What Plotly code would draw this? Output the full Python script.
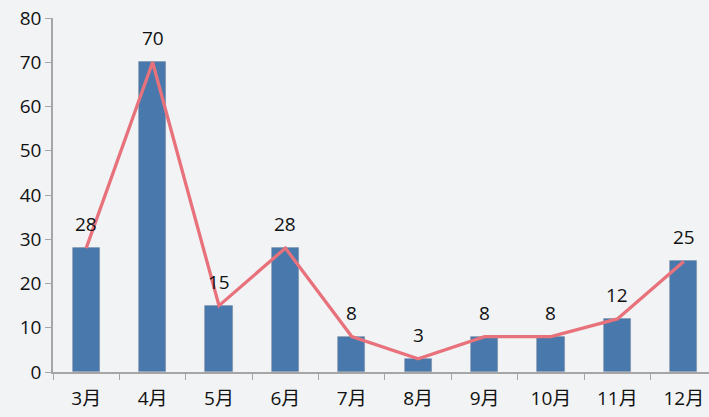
import plotly.graph_objects as go

months = ["3月", "4月", "5月", "6月", "7月", "8月", "9月", "10月", "11月", "12月"]
values = [28, 70, 15, 28, 8, 3, 8, 8, 12, 25]
y_ticks = [0, 10, 20, 30, 40, 50, 60, 70, 80]

font_family = "Open Sans, Noto Sans CJK SC, sans-serif"

fig = go.Figure()
fig.add_trace(go.Bar(
    x=months, y=values, width=0.41,
    marker=dict(color="#4878AC", line=dict(width=0.8, color="rgba(120,130,150,0.5)")),
    showlegend=False, hoverinfo="skip",
))
fig.add_trace(go.Scatter(
    x=months, y=values, mode="lines",
    line=dict(color="#E8727C", width=3.3),
    showlegend=False, hoverinfo="skip",
))
for m, v in zip(months, values):
    fig.add_annotation(x=m, y=v, text=str(v), showarrow=False, yshift=24,
                       font=dict(size=19, color="#111111", family=font_family))

fig.update_layout(
    width=709, height=417,
    margin=dict(l=53, r=0, t=18, b=45),
    paper_bgcolor="#F2F3F5", plot_bgcolor="#F2F3F5",
    font=dict(family=font_family, size=19, color="#111111"),
    bargap=0,
)
fig.update_xaxes(
    type="category", range=[-0.5, 9.38],
    showline=True, linecolor="#A6A6A6", linewidth=1.5,
    ticks="outside", tickcolor="#A6A6A6", ticklen=6, tickson="boundaries",
    ticklabelstandoff=8,
    showgrid=False, zeroline=False,
    tickfont=dict(size=19, color="#111111"),
)
fig.update_yaxes(
    range=[0, 80], tickvals=y_ticks,
    showline=True, linecolor="#A6A6A6", linewidth=1.5,
    ticks="outside", tickcolor="#A6A6A6", ticklen=6,
    showgrid=False, zeroline=False,
    tickfont=dict(size=19, color="#111111"),
)
fig.write_html(
    "out.html",
    config={"displayModeBar": False},
    post_script="document.body.style.margin='0';document.body.style.padding='0';"
                "document.body.style.background='#F2F3F5';"
                "document.documentElement.style.overflow='hidden';",
)
